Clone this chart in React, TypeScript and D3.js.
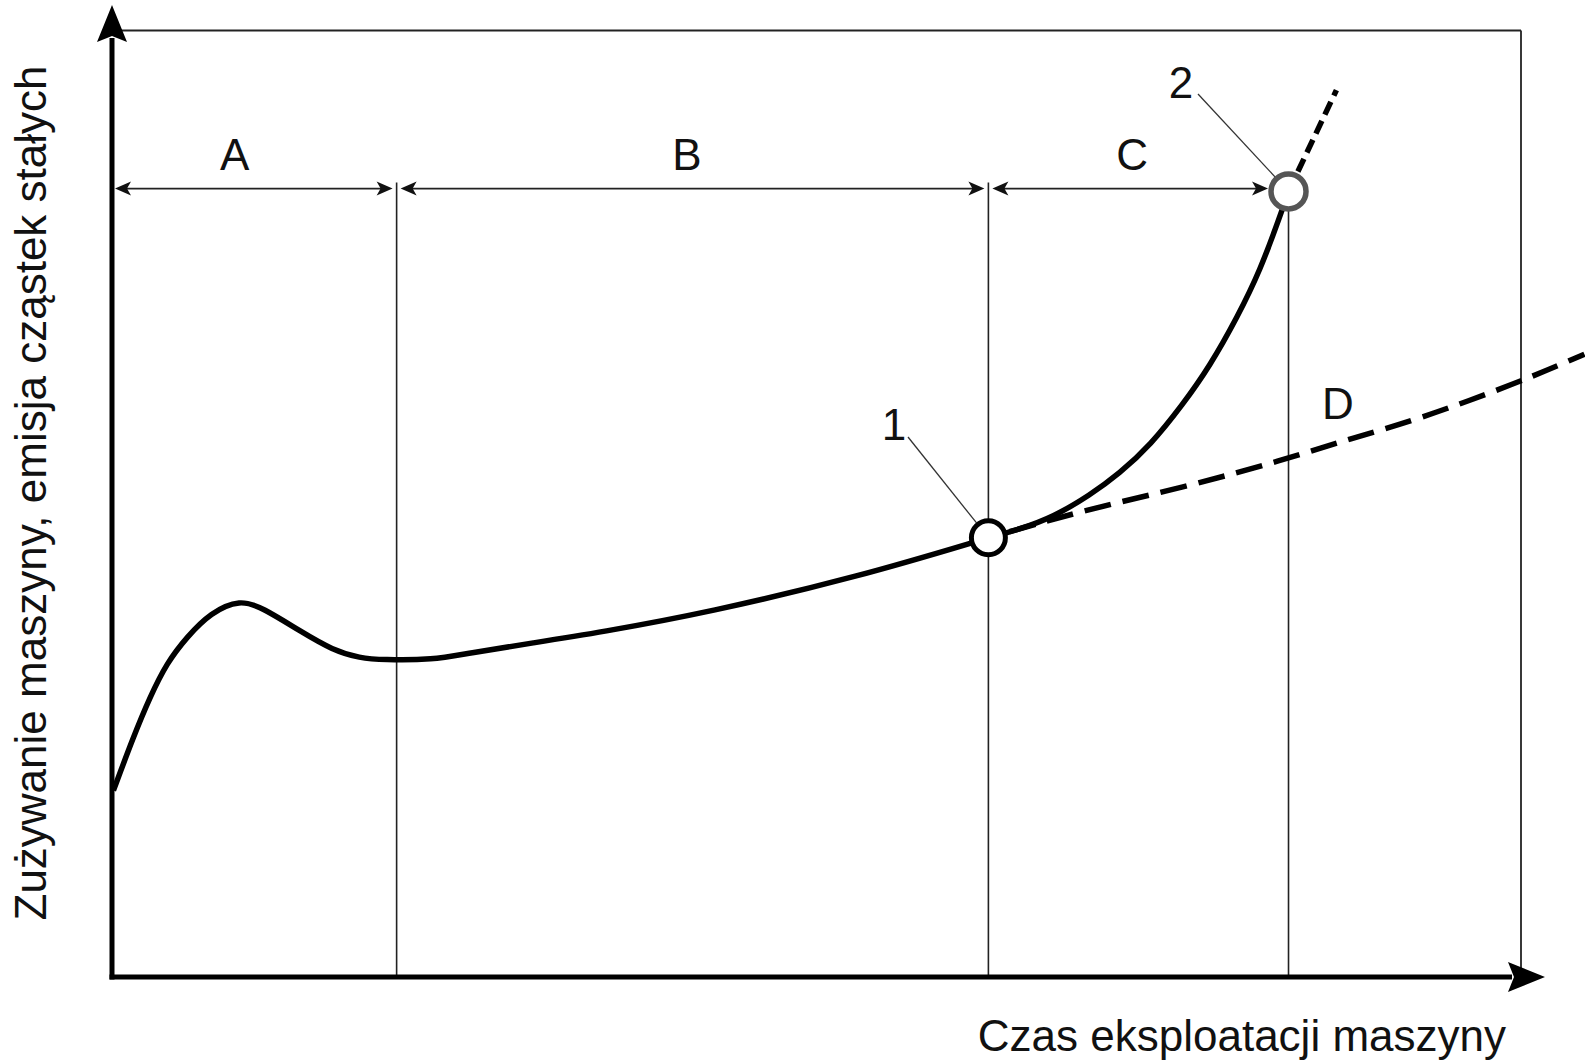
import React from "react";
import * as d3 from "d3";

// wear curve, run-in (A) and normal operation (B)
const wearX = [0.1, 1.5, 2.7, 3.9, 5.3, 7.0, 9.1, 10.7, 13.3, 15.7, 17.6, 19.2, 22.8, 25.2, 29.9, 34.6, 42.3, 53.0, 62.2];
const wearY = [19.7, 25.3, 29.6, 33.2, 35.9, 38.5, 39.9, 39.0, 36.6, 34.5, 33.7, 33.5, 33.5, 34.2, 35.3, 36.4, 38.5, 42.3, 46.4];

// accelerated wear (C)
const failX = [62.2, 64.4, 66.8, 69.4, 71.5, 73.7, 76.0, 77.9, 79.9, 81.5, 82.9, 83.5];
const failY = [46.4, 47.3, 48.6, 50.9, 53.2, 56.2, 60.5, 64.5, 69.8, 74.7, 80.4, 83.0];

// continuation beyond point 2
const failExtX = [83.5, 86.9];
const failExtY = [83.0, 93.7];

// expected wear (D)
const nominalX = [62.2, 68.9, 76.0, 83.1, 87.9, 92.5, 100, 104.5];
const nominalY = [46.4, 49.3, 51.7, 54.6, 56.9, 58.8, 62.9, 65.8];

// section boundaries and names
const sectionNames = ["A", "B", "C"];
const sectionBounds = [0, 20.2, 62.2, 83.5];
const frameRight = 100;

const point1 = { x: 62.2, y: 46.4, label: "1" };
const point2 = { x: 83.5, y: 83.0, label: "2" };

const xTitle = "Czas eksploatacji maszyny";
const yTitle = "Zużywanie maszyny, emisja cząstek stałych";

const W = 1585;
const H = 1063;
const FONT = "'Liberation Sans', Arial, Helvetica, sans-serif";

const zip = (xs: number[], ys: number[]) => xs.map((v, i) => [v, ys[i]] as [number, number]);

export default function App() {
  const x = d3.scaleLinear().domain([0, 100]).range([112, 1521]);
  const y = d3.scaleLinear().domain([0, 100]).range([977, 30.5]);

  const smooth = d3
    .line<[number, number]>()
    .x((d) => x(d[0]))
    .y((d) => y(d[1]))
    .curve(d3.curveBasis);
  const straight = d3
    .line<[number, number]>()
    .x((d) => x(d[0]))
    .y((d) => y(d[1]));

  const x0 = x(0);
  const y0 = y(0);
  const dimY = y(83.3);
  const r1 = 17;
  const r2 = 17.5;

  // big axis arrowhead, pointing right, tip at origin
  const bigArrow = "M0,0 L-37,-15 L-31,0 L-37,15 Z";
  const smallArrow = "M0,0 L-16,-7 L-12,0 L-16,7 Z";

  // dimension line segments
  const dims = sectionNames.map((name, i) => {
    const a = x(sectionBounds[i]) + (i === 0 ? 3 : 4);
    const b = i === 2 ? x(point2.x) - r2 - 3 : x(sectionBounds[i + 1]) - 4;
    return { name, a, b };
  });
  const labelPos = [8.7, 40.8, 72.4];

  // leader lines
  const leader = (lx: number, ly: number, cx: number, cy: number, r: number) => {
    const dx = cx - lx;
    const dy = cy - ly;
    const len = Math.hypot(dx, dy);
    return { x1: lx, y1: ly, x2: cx - (dx / len) * r, y2: cy - (dy / len) * r };
  };
  const c1 = { x: x(point1.x), y: y(point1.y) };
  const c2 = { x: x(point2.x), y: y(point2.y) };
  const l1 = leader(908, 437, c1.x, c1.y, r1 + 2);
  const l2 = leader(1198, 94, c2.x, c2.y, r2 + 2);

  return (
    <svg
      width={W}
      height={H}
      style={{ position: "absolute", left: 0, top: 0, background: "#fff" }}
      fontFamily={FONT}
    >
      <rect width={W} height={H} fill="#fff" />

      {/* frame */}
      <line x1={x0} y1={y(100)} x2={x(frameRight)} y2={y(100)} stroke="#222" strokeWidth={1.8} />
      <line x1={x(frameRight)} y1={y(100)} x2={x(frameRight)} y2={y0} stroke="#222" strokeWidth={1.8} />

      {/* section boundary lines */}
      {sectionBounds.slice(1).map((b, i) => (
        <line
          key={i}
          x1={x(b)}
          x2={x(b)}
          y1={i === 2 ? c2.y + r2 : dimY - 6}
          y2={y0}
          stroke="#222"
          strokeWidth={1.6}
        />
      ))}

      {/* dimension lines */}
      {dims.map((d, i) => (
        <g key={d.name}>
          <line x1={d.a + 8} x2={d.b - 8} y1={dimY} y2={dimY} stroke="#222" strokeWidth={1.8} />
          <path d={smallArrow} transform={`translate(${d.b},${dimY})`} fill="#111" />
          <path d={smallArrow} transform={`translate(${d.a},${dimY}) rotate(180)`} fill="#111" />
          <text x={x(labelPos[i])} y={y(85.3)} fontSize={44} textAnchor="middle" fill="#111">
            {d.name}
          </text>
        </g>
      ))}

      {/* axes */}
      <line x1={x0} y1={y0 + 2.5} x2={x0} y2={38} stroke="#000" strokeWidth={5} />
      <path d={bigArrow} transform={`translate(${x0},5) rotate(-90)`} fill="#000" />
      <line x1={x0 - 2.5} y1={y0} x2={1512} y2={y0} stroke="#000" strokeWidth={5} />
      <path d={bigArrow} transform={`translate(1545,${y0})`} fill="#000" />

      {/* curves */}
      <path d={smooth(zip(wearX, wearY)) || ""} fill="none" stroke="#000" strokeWidth={5.5} strokeLinejoin="round" />
      <path d={smooth(zip(failX, failY)) || ""} fill="none" stroke="#000" strokeWidth={5.5} />
      <path
        d={straight(zip(failExtX, failExtY)) || ""}
        fill="none"
        stroke="#000"
        strokeWidth={5.5}
        strokeDasharray="14,7"
        strokeDashoffset={-22}
      />
      <path
        d={smooth(zip(nominalX, nominalY)) || ""}
        fill="none"
        stroke="#000"
        strokeWidth={5.5}
        strokeDasharray="27,12"
        strokeDashoffset={-22}
      />

      {/* leader lines */}
      <line {...l1} stroke="#333" strokeWidth={1.3} />
      <line {...l2} stroke="#333" strokeWidth={1.3} />

      {/* points */}
      <circle cx={c1.x} cy={c1.y} r={r1} fill="#fff" stroke="#000" strokeWidth={5} />
      <circle cx={c2.x} cy={c2.y} r={r2} fill="#fff" stroke="#555" strokeWidth={5.5} />

      <text x={894} y={440} fontSize={44} textAnchor="middle" fill="#111">
        {point1.label}
      </text>
      <text x={1181} y={98} fontSize={44} textAnchor="middle" fill="#111">
        {point2.label}
      </text>
      <text x={x(87.0)} y={y(59.0)} fontSize={44} textAnchor="middle" fill="#111">
        D
      </text>

      {/* axis titles */}
      <text x={1506} y={1051} fontSize={44} textAnchor="end" fill="#111">
        {xTitle}
      </text>
      <text
        transform={`translate(46,493) rotate(-90)`}
        fontSize={44}
        textAnchor="middle"
        fill="#111"
      >
        {yTitle}
      </text>
    </svg>
  );
}
